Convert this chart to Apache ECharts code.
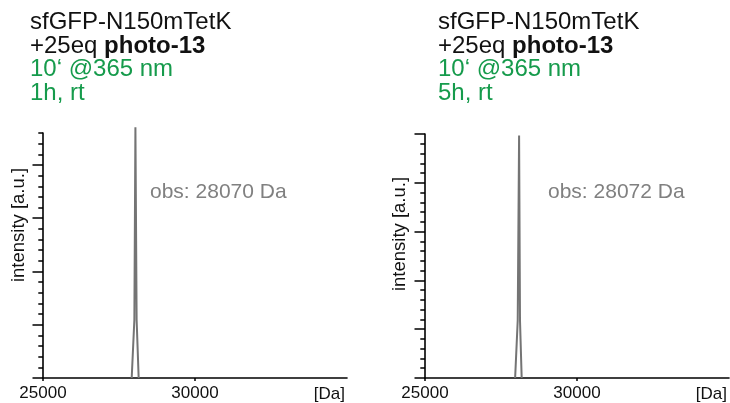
<!DOCTYPE html>
<html>
<head>
<meta charset="utf-8">
<script src="https://cdn.jsdelivr.net/npm/echarts@6/dist/echarts.min.js"></script>
<style>
html,body{margin:0;padding:0;background:#fff;}
#c{width:730px;height:403px;}
</style>
</head>
<body>
<div id="c"></div>
<script>
// ---- data ----
const xMin = 25000, xMax = 35000, xInterval = 5000;
const xTickValues = [25000, 30000];
const xUnit = '[Da]';
const yMajorTicks = [0, 1, 2, 3, 4, 5];
const leftYMax = 4.6, rightYMax = 5.0;
const leftMass = [27918, 28005, 28040, 28080, 28147];
const leftIntensity = [0, 1.09, 4.71, 1.09, 0];
const rightMass = [27965, 28050, 28095, 28125, 28180];
const rightIntensity = [0, 1.18, 4.97, 1.18, 0];
const leftTitle = ['sfGFP-N150mTetK', '+25eq ', 'photo-13', '10‘ @365 nm', '1h, rt'];
const rightTitle = ['sfGFP-N150mTetK', '+25eq ', 'photo-13', '10‘ @365 nm', '5h, rt'];
const leftObs = 'obs: 28070 Da';
const rightObs = 'obs: 28072 Da';
const yName = 'intensity [a.u.]';

const FONT = '"Liberation Sans", Arial, Helvetica, sans-serif';
const GREEN = '#169b4c';
const GREY = '#747474';

function pairs(xs, ys){ return xs.map((x,i)=>[x, ys[i]]); }

const grids = [
  {left: 43, top: 133, width: 304, height: 245},
  {left: 425, top: 134, width: 305, height: 244}
];
const yMaxes = [leftYMax, rightYMax];

function titleComp(t, left){
  const st = {fontFamily: FONT, fontSize: 24, lineHeight: 23.5};
  return {
    left: left, top: 11, padding: 0,
    text: '{a|' + t[0] + '}\n{a|' + t[1] + '}{b|' + t[2] + '}\n{g|' + t[3] + '}\n{g|' + t[4] + '}',
    textStyle: Object.assign({}, st, {
      rich: {
        a: Object.assign({}, st, {color: '#111', fontWeight: 'normal'}),
        b: Object.assign({}, st, {color: '#111', fontWeight: 'bold'}),
        g: Object.assign({}, st, {color: GREEN, fontWeight: 'normal'})
      }
    })
  };
}

const xAxes = [0,1].map(i => ({
  gridIndex: i, type: 'value', min: xMin, max: xMax, interval: xInterval,
  axisLine: {show: true, lineStyle: {color: '#000', width: 1.6}},
  axisTick: {show: true, customValues: xTickValues, length: 3, lineStyle: {color: '#000', width: 1.5}},
  axisLabel: {show: true, customValues: xTickValues, color: '#111', fontSize: 17, fontFamily: FONT, margin: 7,
              formatter: v => String(v)},
  splitLine: {show: false},
  name: xUnit, nameLocation: 'end', nameGap: -2,
  nameTextStyle: {color: '#111', fontSize: 17, fontFamily: FONT, align: 'right', verticalAlign: 'top', padding: [8, 0, 0, 0]}
}));

const yAxes = [];
[0,1].forEach(i => {
  const mx = yMaxes[i];
  yAxes.push({
    gridIndex: i, type: 'value', min: 0, max: mx, interval: 0.2, position: 'left',
    axisLine: {show: true, onZero: false, lineStyle: {color: '#000', width: 1.6}},
    axisTick: {show: true, length: 4.7, lineStyle: {color: '#000', width: 1.5}},
    axisLabel: {show: false}, splitLine: {show: false}
  });
  yAxes.push({
    gridIndex: i, type: 'value', min: 0, max: mx, position: 'left', offset: 0,
    axisLine: {show: false},
    axisTick: {show: true, customValues: yMajorTicks.filter(v => v <= mx + 1e-9), length: 10.5, lineStyle: {color: '#000', width: 1.5}},
    axisLabel: {show: false}, splitLine: {show: false}
  });
});

const option = {
  backgroundColor: '#fff',
  animation: false,
  title: [titleComp(leftTitle, 30), titleComp(rightTitle, 438)],
  grid: grids,
  xAxis: xAxes,
  yAxis: yAxes,
  series: [
    {type: 'line', xAxisIndex: 0, yAxisIndex: 0, data: pairs(leftMass, leftIntensity), symbol: 'none', clip: false,
     lineStyle: {color: GREY, width: 2}},
    {type: 'line', xAxisIndex: 1, yAxisIndex: 2, data: pairs(rightMass, rightIntensity), symbol: 'none', clip: false,
     lineStyle: {color: GREY, width: 2}}
  ],
  graphic: [
    {type: 'text', x: 19, y: 225, rotation: Math.PI/2,
     style: {text: yName, fill: '#111', font: '18.5px ' + FONT, align: 'center', verticalAlign: 'middle'}},
    {type: 'text', x: 400, y: 234, rotation: Math.PI/2,
     style: {text: yName, fill: '#111', font: '18.5px ' + FONT, align: 'center', verticalAlign: 'middle'}},
    {type: 'text', x: 150, y: 192,
     style: {text: leftObs, fill: '#808080', font: '21px ' + FONT, align: 'left', verticalAlign: 'middle'}},
    {type: 'text', x: 548, y: 192,
     style: {text: rightObs, fill: '#808080', font: '21px ' + FONT, align: 'left', verticalAlign: 'middle'}}
  ]
};

const chart = echarts.init(document.getElementById('c'), null, {renderer: 'canvas'});
chart.setOption(option);
</script>
</body>
</html>
